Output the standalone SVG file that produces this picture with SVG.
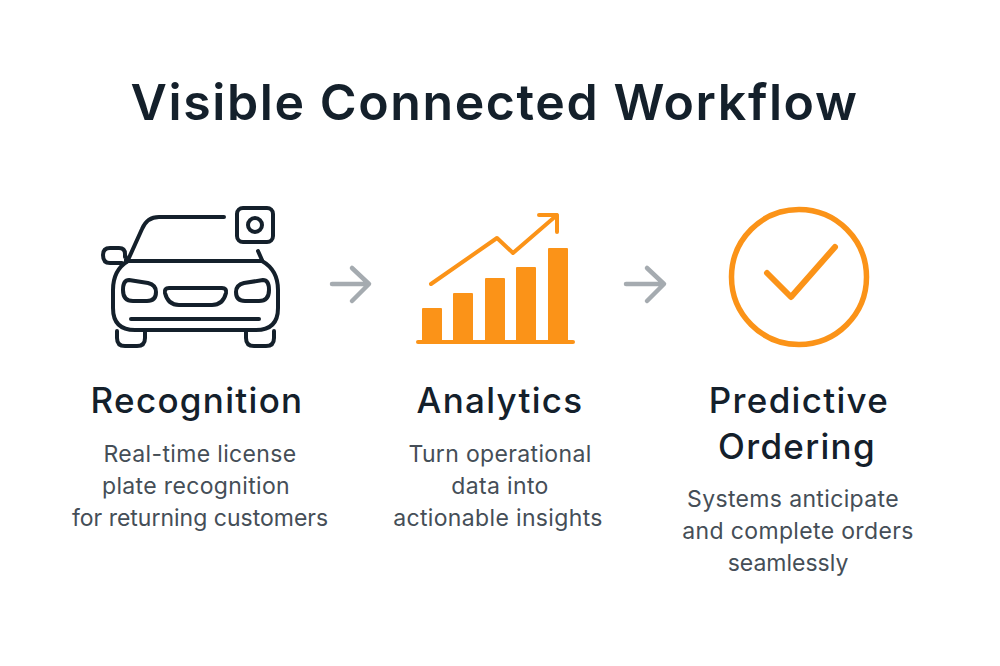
<svg xmlns="http://www.w3.org/2000/svg" width="1000" height="666" viewBox="0 0 1000 666">
<style>
text{text-anchor:middle;font-family:"Inter","Noto Sans",sans-serif}
.t{font-size:50px;font-weight:600;fill:#14202b;letter-spacing:1.6px}
.h{font-size:35px;font-weight:500;fill:#14202b;letter-spacing:1.3px}
.d{font-size:23px;fill:#454e57;letter-spacing:.35px}
.k{fill:none;stroke:#14202b;stroke-width:4;stroke-linecap:round;stroke-linejoin:round}
.o{fill:#fb9318}
.ol{fill:none;stroke:#fb9318;stroke-linecap:round;stroke-linejoin:round}
.a{fill:none;stroke:#a5abb0;stroke-width:4.5;stroke-linecap:round;stroke-linejoin:round}
</style>
<rect width="1000" height="666" fill="#fff"/>
<text class="t" x="494.500" y="120">Visible Connected Workflow</text>
<g id="node-recognition">
<path class="k" d="M128 260L142 229Q147 217 159 217H224M258 251L262 260"/>
<path class="k" d="M128 261H262Q278 270 278 290V308Q278 330 256 330H135Q113 330 113 308V290Q113 270 128 261Z"/>
<path class="k" d="M126 262V257H125V254Q125 248 119 248H110Q103 248 103 255Q103 263 110 263H122"/>
<path class="k" d="M131 319H259"/>
<path class="k" d="M117 331V338Q117 346 125 346H137Q145 346 145 338V332M246 332V338Q246 346 254 346H266Q274 346 274 338V331"/>
<path class="k" d="M129 280L148 283Q156 285 156 292Q156 301 147 301H133Q123 301 123 290Q123 280 129 280ZM263 280L244 283Q236 285 236 292Q236 301 245 301H259Q269 301 269 290Q269 280 263 280Z"/>
<path class="k" d="M169 288H222Q227 288 226 293Q223 305 212 305H179Q168 305 165 293Q164 288 169 288Z"/>
<rect class="k" x="237" y="208" width="36" height="34" rx="6"/>
<circle class="k" cx="255" cy="225" r="7"/>
<text class="h" x="197" y="413">Recognition</text>
<text class="d" x="200" y="461.500">Real-time license</text>
<text class="d" x="196" y="493.500">plate recognition</text>
<text class="d" x="200" y="525.500" style="letter-spacing:0">for returning customers</text>
</g>
<g id="node-analytics">
<rect class="o" x="422" y="308" width="20" height="35" rx="1"/>
<rect class="o" x="453" y="293" width="20" height="50" rx="1"/>
<rect class="o" x="485" y="278" width="20" height="65" rx="1"/>
<rect class="o" x="516" y="267" width="20" height="76" rx="1"/>
<rect class="o" x="548" y="248" width="20" height="95" rx="1"/>
<path class="ol" stroke-width="4" d="M418 342H573"/>
<path class="ol" stroke-width="4" d="M431 284L497 238L513 253L557 215M539 215H557V232"/>
<text class="h" x="500" y="413">Analytics</text>
<text class="d" x="500" y="461.500">Turn operational</text>
<text class="d" x="500" y="493.500">data into</text>
<text class="d" x="498" y="525.500">actionable insights</text>
</g>
<g id="node-ordering">
<circle cx="799" cy="277" r="67.500" class="ol" stroke-width="5.500"/>
<path class="ol" stroke-width="6" d="M767 273L791 297L835 247"/>
<text class="h" x="799" y="413">Predictive</text>
<text class="h" x="797" y="459">Ordering</text>
<text class="d" x="793" y="507">Systems anticipate</text>
<text class="d" x="798" y="539">and complete orders</text>
<text class="d" x="788" y="571" style="letter-spacing:0">seamlessly</text>
</g>
<g id="connectors">
<path class="a" d="M332 284H368M352 268L369 284L352 301"/>
<path class="a" d="M626 284H663M647 268L664 284L647 301"/>
</g>
</svg>
